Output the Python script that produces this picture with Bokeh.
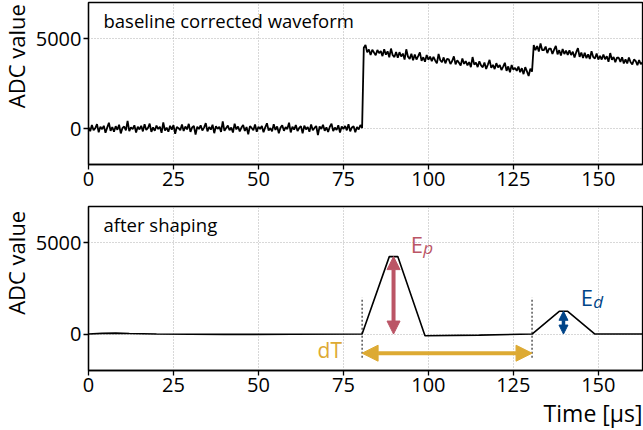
import math
import numpy as np
from bokeh.plotting import figure
from bokeh.layouts import column, row
from bokeh.models import Range1d, FixedTicker, Arrow, NormalHead, Label, Title
from bokeh.embed import file_html
from bokeh.resources import INLINE

FONT = "Open Sans"

# Raw digitiser trace after baseline correction, one sample every 0.5 us (0 .. 163 us)
sample_step_us = 0.5
raw_adc = [
    # baseline, 0 .. 80.5 us
    60, -150, 190, -100, 20, 240, -210, 100, -40, 150,
    -240, 50, 320, -130, 80, -180, 130, -70, 210, -270,
    30, 110, -100, 420, -150, 60, -30, 180, -220, 100,
    -50, 150, -160, 240, -80, 30, 270, -190, 60, -130,
    160, -30, 100, -240, 340, -110, 50, -180, 150, -60,
    190, -290, 80, 20, -100, 220, -140, 110, -50, 260,
    -190, 60, 140, -340, 100, -30, 180, -110, 50, 300,
    -160, 80, -60, 210, -260, 130, -20, 100, -190, 400,
    -130, 30, 160, -100, 60, -220, 270, -50, 110, -160,
    50, 190, -140, 80, -320, 130, 30, -100, 220, -180,
    100, -30, 140, -210, 60, 290, -110, 20, -160, 240,
    -80, 110, -260, 50, 180, -130, 80, -30, 320, -220,
    100, -60, 190, -140, 30, 130, -270, 160, -50, 80,
    -180, 220, -100, 30, 140, -370, 110, -20, 210, -130,
    60, -190, 100, 260, -140, 50, -80, 180, -220, 110,
    -30, 140, -100, 240, -160, 60, 130, -210, 80, -50,
    190, 30,
    # first pulse, 81 .. 130.5 us
    4490, 4640, 4230, 4390, 4080, 4380, 4220, 4070, 4360, 4190,
    4300, 4020, 4400, 4100, 4290, 3960, 4440, 4070, 3970, 4250,
    3930, 4240, 4000, 4160, 3830, 4400, 3990, 3870, 4150, 3790,
    4110, 3830, 4020, 4230, 3760, 3960, 3710, 4080, 3820, 3990,
    3740, 3980, 3780, 3620, 4140, 3790, 3680, 3950, 3620, 3870,
    3840, 3580, 3750, 4010, 3560, 3790, 3650, 3500, 3890, 3590,
    3740, 3510, 3690, 3410, 3970, 3550, 3660, 3410, 3730, 3510,
    3400, 3670, 3310, 3550, 3810, 3370, 3530, 3300, 3630, 3390,
    3530, 3250, 3440, 3650, 3200, 3450, 3120, 3530, 3270, 3370,
    3200, 3440, 3130, 3350, 3020, 3410, 3170, 2920, 3320, 3160,
    # second pulse piled on top, 131 .. 163 us
    4630, 4350, 4580, 4280, 4720, 4350, 4360, 4550, 4190, 4430,
    4440, 4140, 4380, 4590, 4120, 4350, 4060, 4420, 4140, 4330,
    4090, 4340, 4080, 4270, 3950, 4240, 4460, 3980, 4220, 3920,
    4210, 3910, 4120, 3860, 4290, 3970, 3890, 4170, 3830, 4040,
    3830, 4110, 3850, 4020, 3710, 4190, 3820, 3970, 3680, 3940,
    3930, 3700, 3960, 3610, 3840, 3610, 3940, 3680, 3560, 3830,
    3750, 3520, 3800, 3570, 3680,
]
raw_time = np.arange(len(raw_adc)) * sample_step_us

# Trapezoidal filter output (corner points)
shaped_time = [0, 4, 8, 12, 20, 40, 60, 80.5, 88.5, 91, 99, 115, 130.5, 138.5, 141, 149, 163]
shaped_adc = [0, 40, 50, 30, 0, -20, -10, 0, 4250, 4250, -90, -60, 0, 1250, 1250, 0, 0]

# Reconstructed quantities
t_first, t_second = 80.5, 130.5          # trigger times [us]
t_first_top, t_second_top = 89.75, 139.75
e_primary = 4250                         # E_p
e_delayed = 1250                         # E_d
dt_level = -1050                         # height of the dT arrow
trigger_mark_range = (-1300, 2000)

x_ticks = [0, 25, 50, 75, 100, 125, 150]
y_ticks = [0, 5000]
x_lim = (0, 163)
y_lim = (-2000, 7000)

RED = "#BB5566"
BLUE = "#004488"
GOLD = "#DDAA33"

TICK_PX = "20px"
LABEL_PX = "22px"
STRIP_W = 30          # width of the column holding the rotated y labels


def ylabel(height, top_gap):
    """Axis-less strip (data units = pixels) carrying the rotated y label."""
    s = figure(width=STRIP_W, height=height, x_range=Range1d(0, STRIP_W), y_range=Range1d(0, height),
               output_backend="svg", toolbar_location=None, min_border=0,
               x_axis_type=None, y_axis_type=None)
    s.outline_line_color = None
    s.border_fill_color = "white"
    s.background_fill_color = "white"
    # runs up to the top edge of the neighbouring frame
    s.add_layout(Label(x=STRIP_W / 2, y=height - top_gap, text="ADC value", angle=math.pi / 2,
                       text_align="right", text_baseline="middle", text_font=FONT,
                       text_font_size=LABEL_PX, text_color="black"))
    return s


def panel(height, top, bottom, frame_h, title):
    p = figure(width=643 - STRIP_W, height=height, x_range=Range1d(*x_lim), y_range=Range1d(*y_lim),
               output_backend="svg", toolbar_location=None,
               min_border_left=88 - STRIP_W, min_border_right=1,
               min_border_top=top, min_border_bottom=bottom)
    p.background_fill_color = "white"
    p.border_fill_color = "white"
    p.outline_line_color = "black"
    p.outline_line_width = 1.3
    p.xaxis.ticker = FixedTicker(ticks=x_ticks)
    p.yaxis.ticker = FixedTicker(ticks=y_ticks)
    for ax in (p.xaxis[0], p.yaxis[0]):
        ax.axis_line_color = "black"
        ax.axis_line_width = 1.3
        ax.major_tick_in = 0
        ax.major_tick_out = 5
        ax.major_tick_line_width = 1.3
        ax.minor_tick_in = 0
        ax.minor_tick_out = 0
        ax.major_label_text_font = FONT
        ax.major_label_text_font_size = TICK_PX
        ax.major_label_text_color = "black"
        ax.major_label_standoff = 2
    p.grid.grid_line_color = "#b0b0b0"
    p.grid.grid_line_dash = "1 2"
    p.grid.grid_line_width = 1

    p.add_layout(Label(x=15, y=frame_h - 18, x_units="screen", y_units="screen",
                       text=title, text_align="left", text_baseline="alphabetic",
                       text_font=FONT, text_font_size="18.5px", text_color="black"))
    return p


top = panel(200, 2, 36, 162, "baseline corrected waveform")
top.line(raw_time, raw_adc, line_color="black", line_width=1.8)

bot = panel(230, 6, 60, 164, "after shaping")
bot.line(shaped_time, shaped_adc, line_color="black", line_width=1.6)

# x label, right aligned with the frame
bot.add_layout(Title(text="Time [µs]", align="right", standoff=0, offset=0,
                     text_font=FONT, text_font_size="23px", text_font_style="normal",
                     text_color="black"), "below")

# trigger markers
bot.segment(x0=[t_first, t_second], y0=trigger_mark_range[0],
            x1=[t_first, t_second], y1=trigger_mark_range[1],
            line_color="black", line_width=1, line_dash="2 2")


def double_arrow(p, x0, y0, x1, y1, color, width, head):
    p.add_layout(Arrow(start=NormalHead(size=head, fill_color=color, line_color=color, line_width=1),
                       end=NormalHead(size=head, fill_color=color, line_color=color, line_width=1),
                       x_start=x0, y_start=y0, x_end=x1, y_end=y1,
                       line_color=color, line_width=width))


double_arrow(bot, t_first_top, 0, t_first_top, e_primary, RED, 4, 13)
double_arrow(bot, t_second_top, 0, t_second_top, e_delayed, BLUE, 3.5, 9)
double_arrow(bot, t_first, dt_level, t_second, dt_level, GOLD, 4, 16)


def sub_label(p, x, y, main, sub, color, x_shift):
    p.add_layout(Label(x=x, y=y, text=main, text_align="left", text_baseline="alphabetic",
                       text_font=FONT, text_font_size=LABEL_PX, text_color=color))
    p.add_layout(Label(x=x, y=y, x_offset=x_shift, y_offset=-4, text=sub, text_align="left",
                       text_baseline="alphabetic", text_font=FONT, text_font_style="italic",
                       text_font_size="17px", text_color=color))


sub_label(bot, 94.8, 4950, "E", "p", RED, 12.5)
sub_label(bot, 144.8, 2030, "E", "d", BLUE, 12.5)
bot.add_layout(Label(x=67.4, y=-850, text="dT", text_align="left", text_baseline="alphabetic",
                     text_font=FONT, text_font_size="21px", text_color=GOLD))

layout = column(row(ylabel(200, 2), top, spacing=0),
                row(ylabel(230, 6), bot, spacing=0),
                spacing=0)
open("out.html", "w").write(file_html(layout, INLINE))
